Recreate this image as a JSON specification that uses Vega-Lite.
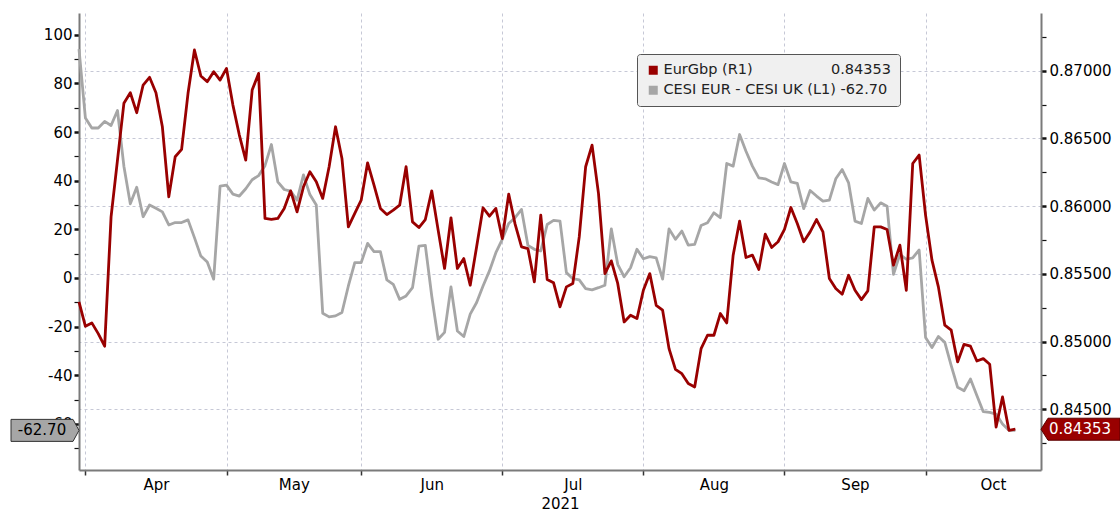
{
  "$schema": "https://vega.github.io/schema/vega-lite/v6.json",
  "width": 962,
  "height": 457,
  "autosize": {"type": "none"},
  "padding": {"left": 79, "top": 13, "right": 79, "bottom": 44},
  "background": "white",
  "config": {
    "font": "DejaVu Sans",
    "view": {"stroke": null},
    "locale": {"number": {"decimal": ".", "thousands": ",", "grouping": [3], "currency": ["$", ""], "minus": "-"}}
  },
  "data": {"values": [
    {"date": "2021-03-31", "cesi": 94.1, "eurgbp": 0.85293},
    {"date": "2021-04-01", "cesi": 65.8, "eurgbp": 0.85113},
    {"date": "2021-04-02", "cesi": 61.7, "eurgbp": 0.85138},
    {"date": "2021-04-05", "cesi": 61.7, "eurgbp": 0.85059},
    {"date": "2021-04-06", "cesi": 64.4, "eurgbp": 0.84966},
    {"date": "2021-04-07", "cesi": 62.7, "eurgbp": 0.85921},
    {"date": "2021-04-08", "cesi": 68.9, "eurgbp": 0.8634},
    {"date": "2021-04-09", "cesi": 46.0, "eurgbp": 0.86759},
    {"date": "2021-04-12", "cesi": 30.5, "eurgbp": 0.86837},
    {"date": "2021-04-13", "cesi": 37.3, "eurgbp": 0.8669},
    {"date": "2021-04-14", "cesi": 25.2, "eurgbp": 0.86894},
    {"date": "2021-04-15", "cesi": 30.0, "eurgbp": 0.86951},
    {"date": "2021-04-16", "cesi": 28.7, "eurgbp": 0.86837},
    {"date": "2021-04-19", "cesi": 27.2, "eurgbp": 0.86586},
    {"date": "2021-04-20", "cesi": 21.8, "eurgbp": 0.86069},
    {"date": "2021-04-21", "cesi": 22.8, "eurgbp": 0.86365},
    {"date": "2021-04-22", "cesi": 22.8, "eurgbp": 0.86419},
    {"date": "2021-04-23", "cesi": 23.9, "eurgbp": 0.86833},
    {"date": "2021-04-26", "cesi": 16.6, "eurgbp": 0.87153},
    {"date": "2021-04-27", "cesi": 9.0, "eurgbp": 0.86961},
    {"date": "2021-04-28", "cesi": 6.6, "eurgbp": 0.86919},
    {"date": "2021-04-29", "cesi": -0.5, "eurgbp": 0.86993},
    {"date": "2021-04-30", "cesi": 37.8, "eurgbp": 0.86931},
    {"date": "2021-05-03", "cesi": 38.2, "eurgbp": 0.87017},
    {"date": "2021-05-04", "cesi": 34.5, "eurgbp": 0.86746},
    {"date": "2021-05-05", "cesi": 33.7, "eurgbp": 0.86525},
    {"date": "2021-05-06", "cesi": 36.7, "eurgbp": 0.8634},
    {"date": "2021-05-07", "cesi": 40.4, "eurgbp": 0.86857},
    {"date": "2021-05-10", "cesi": 42.1, "eurgbp": 0.8698},
    {"date": "2021-05-11", "cesi": 46.2, "eurgbp": 0.85909},
    {"date": "2021-05-12", "cesi": 54.9, "eurgbp": 0.85902},
    {"date": "2021-05-13", "cesi": 39.5, "eurgbp": 0.85909},
    {"date": "2021-05-14", "cesi": 36.4, "eurgbp": 0.85983},
    {"date": "2021-05-17", "cesi": 35.7, "eurgbp": 0.86113},
    {"date": "2021-05-18", "cesi": 32.0, "eurgbp": 0.85958},
    {"date": "2021-05-19", "cesi": 42.4, "eurgbp": 0.86143},
    {"date": "2021-05-20", "cesi": 34.3, "eurgbp": 0.86254},
    {"date": "2021-05-21", "cesi": 30.0, "eurgbp": 0.8618},
    {"date": "2021-05-24", "cesi": -14.5, "eurgbp": 0.86057},
    {"date": "2021-05-25", "cesi": -16.0, "eurgbp": 0.86291},
    {"date": "2021-05-26", "cesi": -15.6, "eurgbp": 0.86586},
    {"date": "2021-05-27", "cesi": -14.2, "eurgbp": 0.86352},
    {"date": "2021-05-28", "cesi": -3.3, "eurgbp": 0.85847},
    {"date": "2021-05-31", "cesi": 6.3, "eurgbp": 0.85946},
    {"date": "2021-06-01", "cesi": 6.3, "eurgbp": 0.86044},
    {"date": "2021-06-02", "cesi": 14.2, "eurgbp": 0.8632},
    {"date": "2021-06-03", "cesi": 10.8, "eurgbp": 0.86155},
    {"date": "2021-06-04", "cesi": 10.8, "eurgbp": 0.85983},
    {"date": "2021-06-07", "cesi": -0.8, "eurgbp": 0.85938},
    {"date": "2021-06-08", "cesi": -2.6, "eurgbp": 0.8597},
    {"date": "2021-06-09", "cesi": -8.8, "eurgbp": 0.86007},
    {"date": "2021-06-10", "cesi": -7.4, "eurgbp": 0.86291},
    {"date": "2021-06-11", "cesi": -4.0, "eurgbp": 0.85884},
    {"date": "2021-06-14", "cesi": 13.1, "eurgbp": 0.85842},
    {"date": "2021-06-15", "cesi": 13.4, "eurgbp": 0.85901},
    {"date": "2021-06-16", "cesi": -7.4, "eurgbp": 0.86113},
    {"date": "2021-06-17", "cesi": -25.2, "eurgbp": 0.85823},
    {"date": "2021-06-18", "cesi": -22.4, "eurgbp": 0.8554},
    {"date": "2021-06-21", "cesi": -3.7, "eurgbp": 0.85914},
    {"date": "2021-06-22", "cesi": -21.8, "eurgbp": 0.8554},
    {"date": "2021-06-23", "cesi": -24.1, "eurgbp": 0.85613},
    {"date": "2021-06-24", "cesi": -14.9, "eurgbp": 0.85416},
    {"date": "2021-06-25", "cesi": -10.1, "eurgbp": 0.857},
    {"date": "2021-06-28", "cesi": -3.3, "eurgbp": 0.85988},
    {"date": "2021-06-29", "cesi": 2.9, "eurgbp": 0.85926},
    {"date": "2021-06-30", "cesi": 10.4, "eurgbp": 0.85983},
    {"date": "2021-07-01", "cesi": 15.9, "eurgbp": 0.85761},
    {"date": "2021-07-02", "cesi": 22.4, "eurgbp": 0.86089},
    {"date": "2021-07-05", "cesi": 24.8, "eurgbp": 0.85867},
    {"date": "2021-07-06", "cesi": 28.2, "eurgbp": 0.857},
    {"date": "2021-07-07", "cesi": 13.4, "eurgbp": 0.85687},
    {"date": "2021-07-08", "cesi": 11.8, "eurgbp": 0.85441},
    {"date": "2021-07-09", "cesi": 11.1, "eurgbp": 0.85934},
    {"date": "2021-07-12", "cesi": 22.0, "eurgbp": 0.85459},
    {"date": "2021-07-13", "cesi": 23.7, "eurgbp": 0.85434},
    {"date": "2021-07-14", "cesi": 23.4, "eurgbp": 0.85256},
    {"date": "2021-07-15", "cesi": 2.2, "eurgbp": 0.85404},
    {"date": "2021-07-16", "cesi": -0.3, "eurgbp": 0.85429},
    {"date": "2021-07-19", "cesi": -0.8, "eurgbp": 0.85773},
    {"date": "2021-07-20", "cesi": -4.4, "eurgbp": 0.86291},
    {"date": "2021-07-21", "cesi": -4.9, "eurgbp": 0.86451},
    {"date": "2021-07-22", "cesi": -4.0, "eurgbp": 0.86094},
    {"date": "2021-07-23", "cesi": -3.0, "eurgbp": 0.85502},
    {"date": "2021-07-26", "cesi": 20.2, "eurgbp": 0.85596},
    {"date": "2021-07-27", "cesi": 5.6, "eurgbp": 0.85429},
    {"date": "2021-07-28", "cesi": 0.5, "eurgbp": 0.85145},
    {"date": "2021-07-29", "cesi": 4.2, "eurgbp": 0.85195},
    {"date": "2021-07-30", "cesi": 11.8, "eurgbp": 0.8517},
    {"date": "2021-08-02", "cesi": 7.9, "eurgbp": 0.85379},
    {"date": "2021-08-03", "cesi": 8.8, "eurgbp": 0.85502},
    {"date": "2021-08-04", "cesi": 8.3, "eurgbp": 0.85268},
    {"date": "2021-08-05", "cesi": -0.5, "eurgbp": 0.85232},
    {"date": "2021-08-06", "cesi": 20.2, "eurgbp": 0.84948},
    {"date": "2021-08-09", "cesi": 15.9, "eurgbp": 0.84795},
    {"date": "2021-08-10", "cesi": 19.3, "eurgbp": 0.84763},
    {"date": "2021-08-11", "cesi": 13.5, "eurgbp": 0.8469},
    {"date": "2021-08-12", "cesi": 13.8, "eurgbp": 0.84665},
    {"date": "2021-08-13", "cesi": 21.6, "eurgbp": 0.84948},
    {"date": "2021-08-16", "cesi": 22.7, "eurgbp": 0.85047},
    {"date": "2021-08-17", "cesi": 26.8, "eurgbp": 0.85047},
    {"date": "2021-08-18", "cesi": 24.8, "eurgbp": 0.85207},
    {"date": "2021-08-19", "cesi": 47.1, "eurgbp": 0.85138},
    {"date": "2021-08-20", "cesi": 46.0, "eurgbp": 0.85638},
    {"date": "2021-08-23", "cesi": 59.0, "eurgbp": 0.85889},
    {"date": "2021-08-24", "cesi": 52.1, "eurgbp": 0.85621},
    {"date": "2021-08-25", "cesi": 46.0, "eurgbp": 0.85638},
    {"date": "2021-08-26", "cesi": 41.2, "eurgbp": 0.85532},
    {"date": "2021-08-27", "cesi": 40.8, "eurgbp": 0.85793},
    {"date": "2021-08-30", "cesi": 39.5, "eurgbp": 0.85695},
    {"date": "2021-08-31", "cesi": 38.4, "eurgbp": 0.85737},
    {"date": "2021-09-01", "cesi": 47.1, "eurgbp": 0.85828},
    {"date": "2021-09-02", "cesi": 39.5, "eurgbp": 0.8599},
    {"date": "2021-09-03", "cesi": 38.9, "eurgbp": 0.85872},
    {"date": "2021-09-06", "cesi": 28.5, "eurgbp": 0.85737},
    {"date": "2021-09-07", "cesi": 36.0, "eurgbp": 0.8581},
    {"date": "2021-09-08", "cesi": 33.7, "eurgbp": 0.85901},
    {"date": "2021-09-09", "cesi": 31.6, "eurgbp": 0.8581},
    {"date": "2021-09-10", "cesi": 32.0, "eurgbp": 0.85466},
    {"date": "2021-09-13", "cesi": 40.8, "eurgbp": 0.85392},
    {"date": "2021-09-14", "cesi": 44.6, "eurgbp": 0.8535},
    {"date": "2021-09-15", "cesi": 39.1, "eurgbp": 0.8549},
    {"date": "2021-09-16", "cesi": 23.4, "eurgbp": 0.85379},
    {"date": "2021-09-17", "cesi": 22.4, "eurgbp": 0.8531},
    {"date": "2021-09-20", "cesi": 32.7, "eurgbp": 0.85374},
    {"date": "2021-09-21", "cesi": 27.9, "eurgbp": 0.85847},
    {"date": "2021-09-22", "cesi": 30.9, "eurgbp": 0.85847},
    {"date": "2021-09-23", "cesi": 29.5, "eurgbp": 0.85828},
    {"date": "2021-09-24", "cesi": 1.5, "eurgbp": 0.85564},
    {"date": "2021-09-27", "cesi": 9.7, "eurgbp": 0.85712},
    {"date": "2021-09-28", "cesi": 7.7, "eurgbp": 0.85379},
    {"date": "2021-09-29", "cesi": 8.3, "eurgbp": 0.86315},
    {"date": "2021-09-30", "cesi": 11.5, "eurgbp": 0.86377},
    {"date": "2021-10-01", "cesi": -24.5, "eurgbp": 0.85934},
    {"date": "2021-10-04", "cesi": -28.6, "eurgbp": 0.85601},
    {"date": "2021-10-05", "cesi": -24.1, "eurgbp": 0.85404},
    {"date": "2021-10-06", "cesi": -26.5, "eurgbp": 0.85121},
    {"date": "2021-10-07", "cesi": -36.1, "eurgbp": 0.85084},
    {"date": "2021-10-08", "cesi": -45.0, "eurgbp": 0.8485},
    {"date": "2021-10-11", "cesi": -46.4, "eurgbp": 0.8498},
    {"date": "2021-10-12", "cesi": -41.6, "eurgbp": 0.84966},
    {"date": "2021-10-13", "cesi": -48.4, "eurgbp": 0.84857},
    {"date": "2021-10-14", "cesi": -55.0, "eurgbp": 0.84874},
    {"date": "2021-10-15", "cesi": -55.3, "eurgbp": 0.84833},
    {"date": "2021-10-18", "cesi": -56.0, "eurgbp": 0.84369},
    {"date": "2021-10-19", "cesi": -60.1, "eurgbp": 0.84591},
    {"date": "2021-10-20", "cesi": -62.7, "eurgbp": 0.84345},
    {"date": "2021-10-21", "cesi": -62.7, "eurgbp": 0.84353}
  ]},
  "transform": [{"window": [{"op": "row_number", "as": "n"}]}],
  "layer": [
    {
      "encoding": {
        "y": {
          "field": "cesi", "type": "quantitative",
          "scale": {"domain": [-79, 109], "nice": false, "zero": false},
          "axis": {
            "orient": "left", "title": null,
            "values": [-70, -60, -50, -40, -30, -20, -10, 0, 10, 20, 30, 40, 50, 60, 70, 80, 90, 100],
            "labelExpr": "abs(datum.value) % 20 == 10 ? '' : datum.label",
            "labelFontSize": 15, "labelColor": "#000000", "labelPadding": 2, "labelOverlap": false,
            "tickColor": "#111111", "tickSize": 5,
            "tickWidth": {"condition": {"test": "abs(datum.value) % 20 == 10", "value": 1.2}, "value": 2.5},
            "grid": false,
            "domainColor": "#7a7a7a", "domainWidth": 2
          }
        }
      },
      "layer": [
        {
          "mark": {"type": "line", "strokeWidth": 2.8, "strokeJoin": "round"},
          "encoding": {
            "x": {
              "field": "n", "type": "quantitative",
              "scale": {"domain": [1, 151], "nice": false, "zero": false},
              "axis": {
                "values": [2, 13, 24, 34.5, 45, 56, 67, 78, 89, 100, 111, 122, 133, 143.5],
                "labelExpr": "datum.value == 13 ? 'Apr' : datum.value == 34.5 ? 'May' : datum.value == 56 ? 'Jun' : datum.value == 78 ? 'Jul' : datum.value == 100 ? 'Aug' : datum.value == 122 ? 'Sep' : datum.value == 143.5 ? 'Oct' : ''",
                "title": "2021",
                "titleFontWeight": "normal", "titleFontSize": 15, "titleColor": "#000", "titlePadding": 4,
                "labelFontSize": 15, "labelColor": "#000", "labelPadding": 2,
                "labelOverlap": false, "labelFlush": false, "labelBound": false,
                "tickSize": 5, "tickColor": "#333", "tickWidth": 1.5,
                "tickOpacity": {"condition": {"test": "indexof([2,24,45,67,89,111,133], datum.value) >= 0", "value": 1}, "value": 0},
                "grid": true, "gridDash": [3, 3], "gridColor": "#c6c8d6", "gridWidth": 1,
                "gridOpacity": {"condition": {"test": "indexof([2,24,45,67,89,111,133], datum.value) >= 0", "value": 1}, "value": 0},
                "domainColor": "#7a7a7a", "domainWidth": 2
              }
            },
            "color": {
              "datum": "CESI EUR - CESI UK (L1)", "type": "nominal",
              "scale": {"domain": ["EurGbp (R1)", "CESI EUR - CESI UK (L1)"], "range": ["#990000", "#a6a6a6"]},
              "legend": {
                "orient": "none", "legendX": 558, "legendY": 41, "title": null,
                "fillColor": "#f0f0f0", "strokeColor": "#555555", "cornerRadius": 3,
                "padding": 9, "rowPadding": 5,
                "symbolType": "square", "symbolSize": 81, "symbolStrokeWidth": 0,
                "labelFontSize": 14.5, "labelColor": "#222222", "labelOffset": 3, "labelLimit": 500,
                "labelExpr": "datum.label == 'EurGbp (R1)' ? 'EurGbp (R1)\u00a0\u00a0\u00a0\u00a0\u00a0\u00a0\u00a0\u00a0\u00a0\u00a0\u00a0\u00a0\u00a0\u00a0\u00a0\u00a0\u00a00.84353' : datum.label + ' -62.70'",
                "encode": {"symbols": {"update": {"fill": {"scale": "color", "field": "value"}, "opacity": {"value": 1}}}}
              }
            }
          }
        },
        {
          "transform": [
            {"joinaggregate": [{"op": "max", "field": "n", "as": "last"}]},
            {"filter": "datum.n == datum.last"}
          ],
          "mark": {"type": "point", "shape": "M 0 0 L -0.6 -1.1 L -6.8 -1.1 L -6.8 1.1 L -0.6 1.1 Z", "size": 400, "filled": true, "fill": "#a6a6a6", "stroke": "#333333", "strokeWidth": 1, "opacity": 1},
          "encoding": {"x": {"datum": 1, "type": "quantitative"}}
        },
        {
          "transform": [
            {"joinaggregate": [{"op": "max", "field": "n", "as": "last"}]},
            {"filter": "datum.n == datum.last"}
          ],
          "mark": {"type": "text", "align": "center", "baseline": "middle", "dx": -37, "fontSize": 15, "color": "#000000"},
          "encoding": {
            "x": {"datum": 1, "type": "quantitative"},
            "text": {"field": "cesi", "type": "quantitative", "format": ".2f"}
          }
        }
      ]
    },
    {
      "encoding": {
        "y": {
          "field": "eurgbp", "type": "quantitative",
          "scale": {"domain": [0.84052, 0.87426], "nice": false, "zero": false},
          "axis": {
            "orient": "right", "title": null,
            "values": [0.8425, 0.845, 0.8475, 0.85, 0.8525, 0.855, 0.8575, 0.86, 0.8625, 0.865, 0.8675, 0.87, 0.8725],
            "labelExpr": "round(datum.value * 10000) % 50 == 0 ? format(datum.value, '.5f') : ''",
            "labelFontSize": 15, "labelColor": "#000000", "labelPadding": 3, "labelOverlap": false,
            "tickColor": "#111111", "tickSize": 5,
            "tickWidth": {"condition": {"test": "round(datum.value * 10000) % 50 == 0", "value": 2.5}, "value": 1.2},
            "grid": true, "gridDash": [3, 3], "gridColor": "#c6c8d6", "gridWidth": 1,
            "gridOpacity": {"condition": {"test": "round(datum.value * 10000) % 50 == 0", "value": 1}, "value": 0},
            "domainColor": "#7a7a7a", "domainWidth": 2
          }
        }
      },
      "layer": [
        {
          "mark": {"type": "line", "strokeWidth": 2.8, "strokeJoin": "round"},
          "encoding": {
            "x": {"field": "n", "type": "quantitative"},
            "color": {"datum": "EurGbp (R1)", "type": "nominal"}
          }
        },
        {
          "transform": [
            {"joinaggregate": [{"op": "max", "field": "n", "as": "last"}]},
            {"filter": "datum.n == datum.last"}
          ],
          "mark": {"type": "point", "shape": "M 0 0 L 0.7 -1.1 L 7.9 -1.1 L 7.9 1.1 L 0.7 1.1 Z", "size": 400, "filled": true, "fill": "#990000", "stroke": "#5a0000", "strokeWidth": 1, "opacity": 1},
          "encoding": {"x": {"datum": 151, "type": "quantitative"}}
        },
        {
          "transform": [
            {"joinaggregate": [{"op": "max", "field": "n", "as": "last"}]},
            {"filter": "datum.n == datum.last"}
          ],
          "mark": {"type": "text", "align": "left", "baseline": "middle", "dx": 8, "fontSize": 15, "color": "#ffffff"},
          "encoding": {
            "x": {"datum": 151, "type": "quantitative"},
            "text": {"field": "eurgbp", "type": "quantitative", "format": ".5f"}
          }
        }
      ]
    }
  ],
  "resolve": {"scale": {"y": "independent"}}
}
